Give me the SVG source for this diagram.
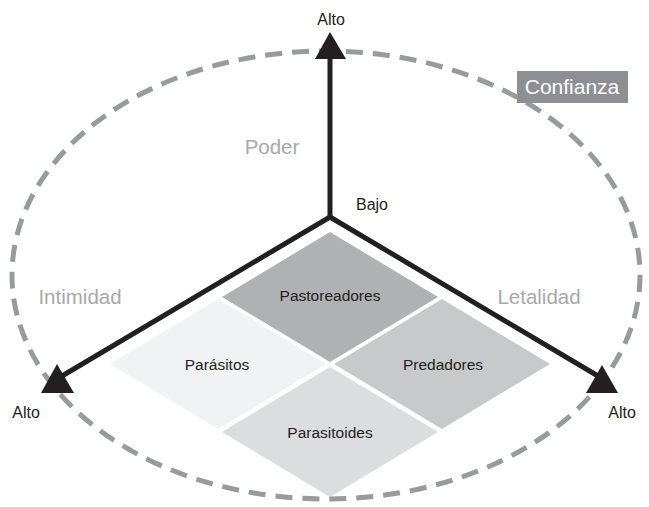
<svg xmlns="http://www.w3.org/2000/svg" width="649" height="507" viewBox="0 0 649 507">
<style>
.t{font-family:"Liberation Sans",Arial,sans-serif;text-anchor:middle}
.ax{fill:#231f20;font-size:16px}
.dim{fill:#a7a9ac;font-size:20.5px}
.cell{fill:#231f20;font-size:15.5px}
.axis{stroke:#231f20;stroke-width:5;fill:none}
.head{fill:#231f20}
</style>
<rect width="649" height="507" fill="#ffffff"/>
<g id="cells">
<g id="pastoreadores"><polygon points="330,232 438,297 330,362 222,297" fill="#b0b1b3"/><text class="t cell" x="330" y="301">Pastoreadores</text></g>
<g id="parasitos"><polygon points="218,299 326,364 218,429 110,364" fill="#f1f2f3"/><text class="t cell" x="217" y="370">Parásitos</text></g>
<g id="predadores"><polygon points="442,299 550,364 442,429 334,364" fill="#c8c9cb"/><text class="t cell" x="443" y="370">Predadores</text></g>
<g id="parasitoides"><polygon points="330,367 438,432 330,497 222,432" fill="#dcdddf"/><text class="t cell" x="330" y="438">Parasitoides</text></g>
</g>
<g id="connectors">
<ellipse id="confianza-ring" cx="326" cy="275" rx="314" ry="224" fill="none" stroke="#999a9c" stroke-width="5" stroke-dasharray="17 10"/>
<polyline class="axis" points="330,52 330,217"/>
<polyline class="axis" points="62,376 330,217 598,376"/>
<polygon class="head" points="330,32 346,59 315,59"/>
<polygon class="head" points="57,364 74,393 41,393"/>
<polygon class="head" points="602,365 618,393 586,393"/>
</g>
<g id="labels">
<text class="t ax" x="331" y="25">Alto</text>
<text class="t ax" x="26" y="418">Alto</text>
<text class="t ax" x="622" y="418">Alto</text>
<text class="t ax" x="372" y="210">Bajo</text>
<text class="t dim" x="272" y="154">Poder</text>
<text class="t dim" x="80" y="304">Intimidad</text>
<text class="t dim" x="539" y="304">Letalidad</text>
</g>
<g id="confianza">
<rect x="517" y="71" width="111" height="32" fill="#8e8f92"/>
<text class="t" x="572" y="94" fill="#ffffff" font-size="21">Confianza</text>
</g>
</svg>
